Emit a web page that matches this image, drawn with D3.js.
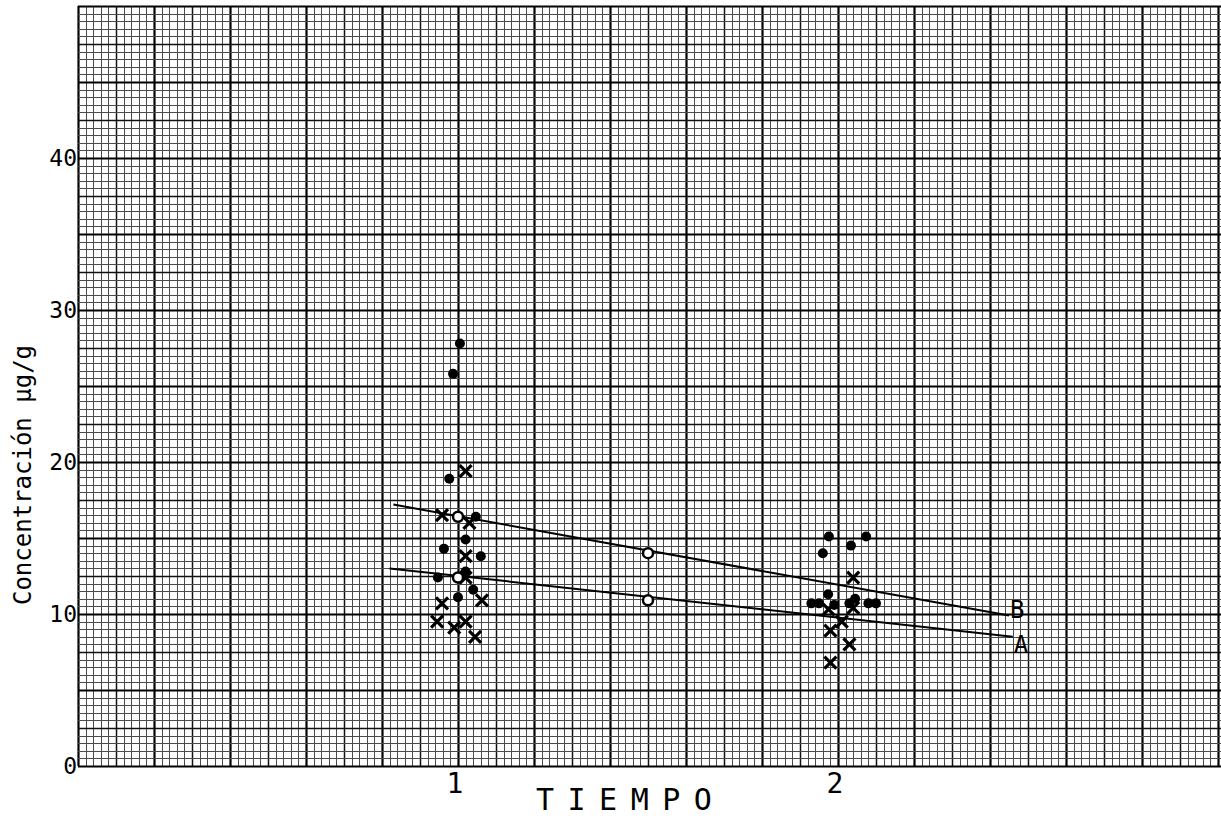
<!DOCTYPE html>
<html>
<head>
<meta charset="utf-8">
<script src="https://cdn.jsdelivr.net/npm/d3@7"></script>
<style>
  body { margin: 0; background: #fff; }
  svg { display: block; }
  text { font-family: 'DejaVu Sans Mono', monospace; fill: #000; }
</style>
</head>
<body>
<div id="chart"></div>
<script>
// Readings taken off the scanned plot (x = tiempo, y = concentración)
const dotsX = [1.005, 0.987, 0.977, 1.047, 1.02, 0.963, 1.06, 1.02, 0.947, 1.04, 1.0,
    1.976, 2.074, 2.034, 1.96, 1.974, 1.93, 1.95, 1.99, 2.03, 2.08, 2.10, 2.045];
const dotsY = [27.8, 25.8, 18.9, 16.4, 14.9, 14.3, 13.8, 12.8, 12.4, 11.6, 11.1,
    15.1, 15.1, 14.5, 14.0, 11.3, 10.7, 10.7, 10.6, 10.7, 10.7, 10.7, 11.0];

const crossX = [1.02, 0.958, 1.03, 1.02, 1.02, 1.063, 0.958, 1.02, 0.945, 0.99, 1.045,
    2.04, 1.975, 2.04, 2.01, 1.98, 2.03, 1.98];
const crossY = [19.4, 16.5, 16.0, 13.8, 12.4, 10.9, 10.7, 9.5, 9.5, 9.1, 8.5,
    12.4, 10.3, 10.4, 9.5, 8.9, 8.0, 6.8];

const openX = [1.0, 1.5, 1.0, 1.5];
const openY = [16.4, 14.0, 12.4, 10.9];

const lineNames = ['B', 'A'];
const lineX = [[0.83, 2.45], [0.82, 2.46]];
const lineY = [[17.2, 9.9], [13.0, 8.5]];

const xTicks = [1, 2];
const yTicks = [0, 10, 20, 30, 40];

const WIDTH = 1221;
const HEIGHT = 818;

const svg = d3.select('#chart')
    .append('svg')
    .attr('width', WIDTH)
    .attr('height', HEIGHT);

const xScale = d3.scaleLinear().domain([0, 3]).range([78, 1218]);
const yScale = d3.scaleLinear().domain([0, 50]).range([766, 6]);

// graph paper
const grid = svg.append('g');
const xLines = d3.range(0, 151);
const yLines = d3.range(0, 101);
const weight = i => i % 10 === 0 ? 2.2 : (i % 5 === 0 ? 1.5 : 1);
const colour = i => i % 10 === 0 ? '#000' : (i % 5 === 0 ? '#111' : '#4a4a4a');

grid.selectAll('.vline')
    .data(xLines)
    .enter()
    .append('line')
    .attr('x1', i => Math.round(xScale(i * 0.02)) + 0.5)
    .attr('x2', i => Math.round(xScale(i * 0.02)) + 0.5)
    .attr('y1', yScale(50))
    .attr('y2', yScale(0))
    .attr('stroke', colour)
    .attr('stroke-width', weight);

grid.selectAll('.hline')
    .data(yLines)
    .enter()
    .append('line')
    .attr('x1', xScale(0))
    .attr('x2', WIDTH)
    .attr('y1', j => Math.round(yScale(j * 0.5)) + 0.5)
    .attr('y2', j => Math.round(yScale(j * 0.5)) + 0.5)
    .attr('stroke', colour)
    .attr('stroke-width', weight);

// fitted lines
lineNames.forEach((name, k) => {
    svg.append('line')
        .attr('x1', xScale(lineX[k][0]))
        .attr('y1', yScale(lineY[k][0]))
        .attr('x2', xScale(lineX[k][1]))
        .attr('y2', yScale(lineY[k][1]))
        .attr('stroke', '#000')
        .attr('stroke-width', 2);

    svg.append('text')
        .text(name)
        .attr('x', xScale(lineX[k][1]) + 1)
        .attr('y', yScale(lineY[k][1]) + (k === 0 ? 2 : 16))
        .attr('font-size', 24);
});

// filled dots
svg.selectAll('.dot')
    .data(dotsX)
    .enter()
    .append('circle')
    .attr('cx', d => xScale(d))
    .attr('cy', (d, i) => yScale(dotsY[i]))
    .attr('r', 5)
    .attr('fill', '#000');

// crosses
svg.selectAll('.cross')
    .data(crossX)
    .enter()
    .append('path')
    .attr('d', (d, i) => {
        const cx = xScale(d);
        const cy = yScale(crossY[i]);
        const s = 6;
        return `M${cx - s},${cy - s}L${cx + s},${cy + s}M${cx - s},${cy + s}L${cx + s},${cy - s}`;
    })
    .attr('stroke', '#000')
    .attr('stroke-width', 3.2);

// open circles on the lines
svg.selectAll('.open')
    .data(openX)
    .enter()
    .append('circle')
    .attr('cx', d => xScale(d))
    .attr('cy', (d, i) => yScale(openY[i]))
    .attr('r', 5)
    .attr('fill', '#fff')
    .attr('stroke', '#000')
    .attr('stroke-width', 2.5);

// tick labels
svg.selectAll('.ylab')
    .data(yTicks)
    .enter()
    .append('text')
    .text(d => d)
    .attr('x', 77)
    .attr('y', d => yScale(d) + 8)
    .attr('text-anchor', 'end')
    .attr('font-size', 23);

svg.selectAll('.xlab')
    .data(xTicks)
    .enter()
    .append('text')
    .text(d => d)
    .attr('x', d => xScale(d) - 3)
    .attr('y', 793)
    .attr('text-anchor', 'middle')
    .attr('font-size', 28);

// axis titles
svg.append('text')
    .text('TIEMPO')
    .attr('x', 536)
    .attr('y', 810)
    .attr('font-size', 30)
    .attr('letter-spacing', 13.5);

svg.append('text')
    .text('Concentración µg/g')
    .attr('transform', 'translate(31,475) rotate(-90)')
    .attr('text-anchor', 'middle')
    .attr('font-size', 24);
</script>
</body>
</html>
